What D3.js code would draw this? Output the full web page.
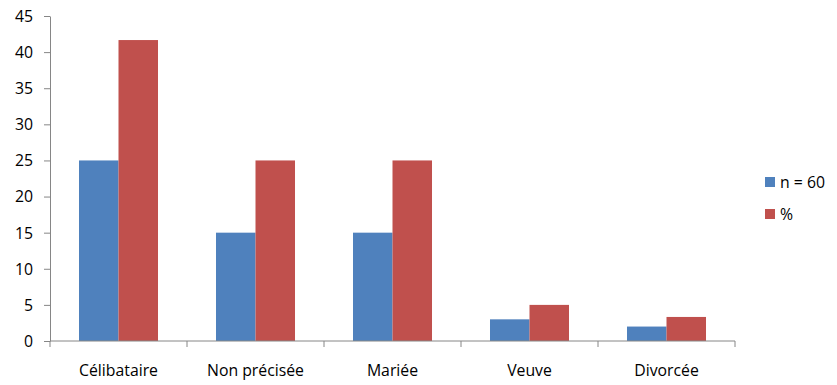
<!DOCTYPE html>
<html>
<head>
<meta charset="utf-8">
<script src="https://cdn.jsdelivr.net/npm/d3@7"></script>
<style>
  body { margin: 0; background: #fff; }
  text { font-family: "Open Sans", "Liberation Sans", sans-serif; fill: #000; }
</style>
</head>
<body>
<svg id="chart" width="837" height="385"></svg>
<script>
const categories = ["Célibataire", "Non précisée", "Mariée", "Veuve", "Divorcée"];
const seriesNames = ["n = 60", "%"];
const countValues = [25, 15, 15, 3, 2];
const percentValues = [41.67, 25, 25, 5, 3.33];
const yTicks = [0, 5, 10, 15, 20, 25, 30, 35, 40, 45];
const colors = ["#4F81BD", "#C0504D"];

(function () {
  const series = [countValues, percentValues];
  const svg = d3.select("#chart");
  const plotLeft = 50, plotRight = 735, plotTop = 16, plotBottom = 341;
  const fontSize = "15.8px";

  const x0 = d3.scaleBand().domain(categories).range([plotLeft, plotRight]).padding(0);
  const x1 = d3.scaleBand().domain(d3.range(series.length))
    .range([0, x0.bandwidth()]).paddingInner(0).paddingOuter(0.734);
  const y = d3.scaleLinear().domain([0, 45]).range([plotBottom, plotTop]);

  // bars
  const groups = svg.append("g").selectAll("g").data(categories).join("g")
    .attr("transform", d => `translate(${x0(d)},0)`);
  groups.selectAll("rect")
    .data((d, i) => series.map((s, k) => ({ k, v: s[i] })))
    .join("rect")
    .attr("x", d => x1(d.k))
    .attr("width", x1.bandwidth())
    .attr("y", d => y(d.v))
    .attr("height", d => y(0) - y(d.v))
    .attr("fill", d => colors[d.k]);

  // y axis
  const yAxis = svg.append("g").attr("transform", `translate(${plotLeft},0)`)
    .call(d3.axisLeft(y).tickValues(yTicks).tickSize(6).tickPadding(11).tickSizeOuter(0));
  yAxis.select(".domain").attr("stroke", "#868686");
  yAxis.selectAll(".tick line").attr("stroke", "#868686");
  yAxis.selectAll(".tick text").style("font-size", fontSize).attr("dy", "0.34em");

  // x axis with ticks on category boundaries
  const xAxisG = svg.append("g").attr("transform", `translate(0,${plotBottom})`);
  xAxisG.append("line").attr("x1", plotLeft).attr("x2", plotRight)
    .attr("stroke", "#868686");
  const boundaries = categories.map(c => x0(c)).concat([plotRight]);
  xAxisG.selectAll("line.b").data(boundaries).join("line").attr("class", "b")
    .attr("x1", d => d).attr("x2", d => d).attr("y1", 0).attr("y2", 6)
    .attr("stroke", "#868686");
  xAxisG.selectAll("text").data(categories).join("text")
    .attr("x", d => x0(d) + x0.bandwidth() / 2)
    .attr("y", 35)
    .attr("text-anchor", "middle")
    .style("font-size", fontSize)
    .text(d => d);

  // legend
  const legend = svg.append("g").selectAll("g").data(seriesNames).join("g")
    .attr("transform", (d, i) => `translate(765,${177 + i * 32})`);
  legend.append("rect").attr("width", 10).attr("height", 10)
    .attr("fill", (d, i) => colors[i]);
  legend.append("text").attr("x", 15).attr("y", 5).attr("dy", "0.35em")
    .style("font-size", fontSize).text(d => d);
})();
</script>
</body>
</html>
